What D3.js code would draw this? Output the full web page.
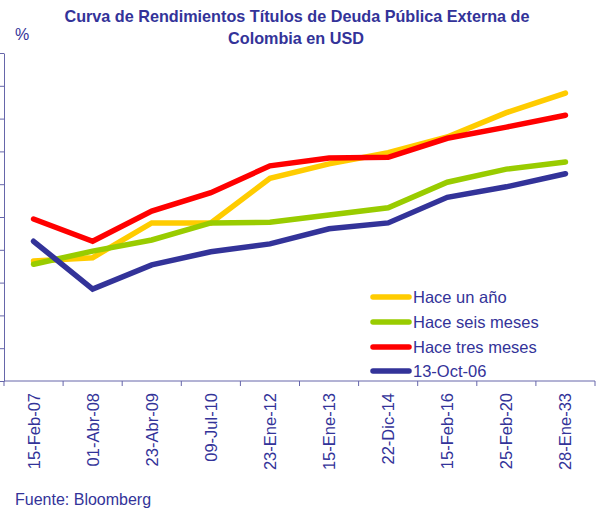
<!DOCTYPE html>
<html><head><meta charset="utf-8">
<script src="https://cdn.jsdelivr.net/npm/d3@7"></script>
<style>body{margin:0;background:#fff}svg{display:block}text{font-family:Arial,"Liberation Sans",sans-serif}</style>
</head><body><svg id="c" width="596" height="512"></svg>
<script>
const categories = ["15-Feb-07","01-Abr-08","23-Abr-09","09-Jul-10","23-Ene-12","15-Ene-13","22-Dic-14","15-Feb-16","25-Feb-20","28-Ene-33"];
const haceUnAno    = [5.83,5.88,6.41,6.41,7.09,7.31,7.48,7.72,8.09,8.39];
const haceSeisMeses= [5.78,5.98,6.15,6.41,6.42,6.53,6.64,7.03,7.23,7.34];
const haceTresMeses= [6.47,6.13,6.59,6.87,7.28,7.40,7.41,7.70,7.87,8.05];
const oct06        = [6.13,5.40,5.77,5.97,6.09,6.32,6.41,6.80,6.96,7.16];
const yTicks = [4,4.5,5,5.5,6,6.5,7,7.5,8,8.5,9];
const seriesNames = ["Hace un año","Hace seis meses","Hace tres meses","13-Oct-06"];
const seriesColors = ["#FFCC00","#99CC00","#FF0000","#333399"];
const seriesData = [haceUnAno, haceSeisMeses, haceTresMeses, oct06];

const svg = d3.select("#c");
const txt = "#333399";
const pLeft = 4, pRight = 595, pTop = 53, pBottom = 381;
const x = d3.scaleBand().domain(categories).range([pLeft, pRight]);
const y = d3.scaleLinear().domain([4,9]).range([pBottom, pTop]);
const bw = x.bandwidth();

// title
svg.append("text").attr("x",297).attr("y",22).attr("text-anchor","middle").attr("fill",txt)
  .attr("font-size",16.2).attr("font-weight","bold").text("Curva de Rendimientos Títulos de Deuda Pública Externa de");
svg.append("text").attr("x",296).attr("y",44).attr("text-anchor","middle").attr("fill",txt)
  .attr("font-size",16.2).attr("font-weight","bold").text("Colombia en USD");
svg.append("text").attr("x",15).attr("y",40).attr("fill",txt).attr("font-size",16).text("%");

// y axis
const ya = svg.append("g").attr("transform",`translate(${pLeft},0)`)
  .call(d3.axisLeft(y).tickValues(yTicks).tickSize(5).tickSizeOuter(0).tickFormat(""));
ya.selectAll("line,path").attr("stroke","#6666aa");

// x axis
const xg = svg.append("g");
xg.append("line").attr("x1",pLeft).attr("x2",pRight).attr("y1",pBottom).attr("y2",pBottom).attr("stroke","#6666aa");
const bounds = categories.map(c=>x(c)).concat([x.range()[1]]);
xg.selectAll("line.t").data(bounds).join("line").attr("class","t")
  .attr("x1",d=>d).attr("x2",d=>d).attr("y1",pBottom).attr("y2",pBottom+5).attr("stroke","#6666aa");
xg.selectAll("text").data(categories).join("text")
  .attr("transform",d=>`translate(${x(d)+bw/2+6},393) rotate(-90)`)
  .attr("text-anchor","end").attr("fill",txt).attr("font-size",16.5).text(d=>d);

// lines
const line = d3.line().x((d,i)=>x(categories[i])+bw/2).y(d=>y(d));
seriesData.forEach((s,k)=>{
  svg.append("path").datum(s).attr("d",line).attr("fill","none")
    .attr("stroke",seriesColors[k]).attr("stroke-width",5.5)
    .attr("stroke-linecap","round").attr("stroke-linejoin","miter");
});

// legend
const lg = svg.append("g");
const rows = [297,322,347,371];
seriesNames.forEach((n,k)=>{
  lg.append("line").attr("x1",373).attr("x2",409).attr("y1",rows[k]).attr("y2",rows[k])
    .attr("stroke",seriesColors[k]).attr("stroke-width",5.5).attr("stroke-linecap","round");
  lg.append("text").attr("x",413).attr("y",rows[k]+6).attr("fill",txt).attr("font-size",16.5).text(n);
});

svg.append("text").attr("x",15).attr("y",505).attr("fill",txt).attr("font-size",16).text("Fuente: Bloomberg");
</script></body></html>
